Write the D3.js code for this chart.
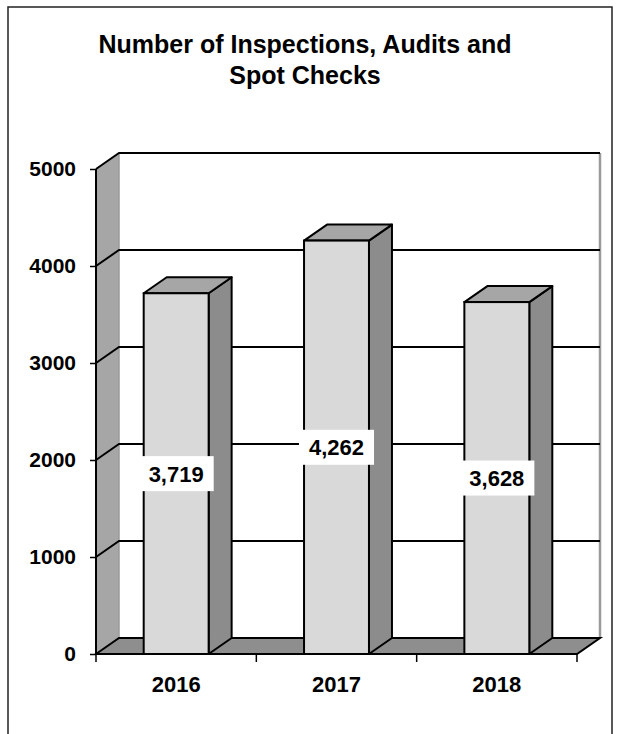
<!DOCTYPE html>
<html>
<head>
<meta charset="utf-8">
<script src="https://cdn.jsdelivr.net/npm/d3@7"></script>
<style>
  html, body { margin: 0; padding: 0; background: #fff; }
  svg { display: block; font-family: "Liberation Sans", Arial, sans-serif; }
</style>
</head>
<body>
<svg id="chart" width="620" height="734"></svg>
<script>
// Data
const years = ["2016", "2017", "2018"];
const counts = [3719, 4262, 3628];
const yTicks = [0, 1000, 2000, 3000, 4000, 5000];
const titleLines = ["Number of Inspections, Audits and", "Spot Checks"];

const svg = d3.select("#chart");
const W = 620, H = 734;

// 3-D box geometry: front plane and back-plane offset
const front = { left: 96, right: 577, top: 169, bottom: 654 };
const depth = { dx: 23, dy: -16 };

const x = d3.scaleBand()
  .domain(years)
  .range([front.left, front.right])
  .paddingInner(0.595)
  .paddingOuter(0.2975);

const y = d3.scaleLinear()
  .domain([0, 5000])
  .range([front.bottom, front.top]);

const col = {
  wall: "#a6a6a6",
  floor: "#8e8e8e",
  barFront: "#d9d9d9",
  barSide: "#8c8c8c",
  barTop: "#a6a6a6",
  edge: "#9a9a9a"
};

// Outer frame
svg.append("rect")
  .attr("x", 8).attr("y", 7)
  .attr("width", 604).attr("height", H + 20)
  .attr("fill", "none")
  .attr("stroke", "#222")
  .attr("stroke-width", 1.5);

// Title
svg.append("text")
  .attr("x", 305)
  .attr("text-anchor", "middle")
  .attr("font-weight", "bold")
  .attr("font-size", 25)
  .attr("fill", "#000")
  .selectAll("tspan")
  .data(titleLines)
  .join("tspan")
  .attr("x", 305)
  .attr("y", (d, i) => 53 + i * 31)
  .text(d => d);

const y0 = y(0), yTop = y(5000);
const bx = depth.dx, by = depth.dy;
const backRight = front.right + bx;

// Left wall
svg.append("path")
  .attr("d", `M${front.left},${y0} L${front.left},${yTop} L${front.left + bx},${yTop + by} L${front.left + bx},${y0 + by} Z`)
  .attr("fill", col.wall)
  .attr("stroke", "none");

// Back-wall edges (light grey)
svg.append("line")
  .attr("x1", front.left + bx).attr("x2", front.left + bx)
  .attr("y1", yTop + by).attr("y2", y0 + by)
  .attr("stroke", col.edge).attr("stroke-width", 1.5);
svg.append("line")
  .attr("x1", backRight).attr("x2", backRight)
  .attr("y1", yTop + by).attr("y2", y0 + by)
  .attr("stroke", col.edge).attr("stroke-width", 2.5);

// Floor
svg.append("path")
  .attr("d", `M${front.left},${y0} L${front.left + bx},${y0 + by} L${backRight},${y0 + by} L${front.right},${y0} Z`)
  .attr("fill", col.floor)
  .attr("stroke", "#000")
  .attr("stroke-width", 2)
  .attr("stroke-linejoin", "miter");

// Gridlines: diagonal across the left wall, then across the back wall
svg.append("g")
  .selectAll("path")
  .data(yTicks.filter(v => v > 0))
  .join("path")
  .attr("d", v => `M${front.left},${y(v)} L${front.left + bx},${y(v) + by} L${backRight},${y(v) + by}`)
  .attr("fill", "none")
  .attr("stroke", "#000")
  .attr("stroke-width", 2);

// Front edge of the left wall
svg.append("line")
  .attr("x1", front.left).attr("x2", front.left)
  .attr("y1", yTop).attr("y2", y0)
  .attr("stroke", "#000").attr("stroke-width", 2);

// Y axis ticks and labels
const yAxis = svg.append("g")
  .attr("transform", `translate(${front.left},0)`)
  .call(d3.axisLeft(y).tickValues(yTicks).tickSize(6).tickSizeOuter(0).tickPadding(14).tickFormat(d3.format("d")));
yAxis.select(".domain").remove();
yAxis.selectAll(".tick line").attr("stroke", "#000").attr("stroke-width", 1.5);
yAxis.selectAll(".tick text")
  .attr("font-family", "Liberation Sans, Arial, sans-serif")
  .attr("font-weight", "bold")
  .attr("font-size", 21)
  .attr("fill", "#000");

// Bars as 3-D prisms
const bars = svg.append("g")
  .selectAll("g")
  .data(years.map((yr, i) => ({ year: yr, value: counts[i] })))
  .join("g");

bars.append("path") // side
  .attr("d", d => {
    const x1 = x(d.year) + x.bandwidth(), yt = y(d.value);
    return `M${x1},${y0} L${x1},${yt} L${x1 + bx},${yt + by} L${x1 + bx},${y0 + by} Z`;
  })
  .attr("fill", col.barSide)
  .attr("stroke", "#000").attr("stroke-width", 2).attr("stroke-linejoin", "round");

bars.append("path") // top
  .attr("d", d => {
    const x0 = x(d.year), x1 = x0 + x.bandwidth(), yt = y(d.value);
    return `M${x0},${yt} L${x0 + bx},${yt + by} L${x1 + bx},${yt + by} L${x1},${yt} Z`;
  })
  .attr("fill", col.barTop)
  .attr("stroke", "#000").attr("stroke-width", 2).attr("stroke-linejoin", "round");

bars.append("rect") // front
  .attr("x", d => x(d.year))
  .attr("y", d => y(d.value))
  .attr("width", x.bandwidth())
  .attr("height", d => y0 - y(d.value))
  .attr("fill", col.barFront)
  .attr("stroke", "#000").attr("stroke-width", 2);

// Front floor edge over bar bottoms
svg.append("line")
  .attr("x1", front.left).attr("x2", front.right)
  .attr("y1", y0).attr("y2", y0)
  .attr("stroke", "#000").attr("stroke-width", 2);

// Category boundary ticks below the floor
const step = x.step();
svg.append("g")
  .selectAll("line")
  .data(d3.range(years.length + 1))
  .join("line")
  .attr("x1", i => front.left + i * step)
  .attr("x2", i => front.left + i * step)
  .attr("y1", y0).attr("y2", y0 + 8)
  .attr("stroke", "#000").attr("stroke-width", 1.5);

// Category labels
const xAxis = svg.append("g")
  .attr("transform", `translate(0,${y0})`)
  .call(d3.axisBottom(x).tickSize(0).tickPadding(22));
xAxis.select(".domain").remove();
xAxis.selectAll(".tick text")
  .attr("font-family", "Liberation Sans, Arial, sans-serif")
  .attr("font-weight", "bold")
  .attr("font-size", 22)
  .attr("fill", "#000");

// Value labels on white boxes, centred at half the bar height
const fmt = d3.format(",");
const labels = svg.append("g")
  .selectAll("g")
  .data(years.map((yr, i) => ({ year: yr, value: counts[i] })))
  .join("g")
  .attr("transform", d => `translate(${x(d.year) + x.bandwidth() / 2},${y(d.value / 2)})`);

labels.append("text")
  .attr("text-anchor", "middle")
  .attr("dy", "0.36em")
  .attr("font-weight", "bold")
  .attr("font-size", 22)
  .attr("fill", "#000")
  .text(d => fmt(d.value));

labels.each(function () {
  const g = d3.select(this);
  const bb = g.select("text").node().getBBox();
  g.insert("rect", "text")
    .attr("x", bb.x - 10)
    .attr("y", -17.5)
    .attr("width", bb.width + 20)
    .attr("height", 35)
    .attr("fill", "#fff");
});
</script>
</body>
</html>
